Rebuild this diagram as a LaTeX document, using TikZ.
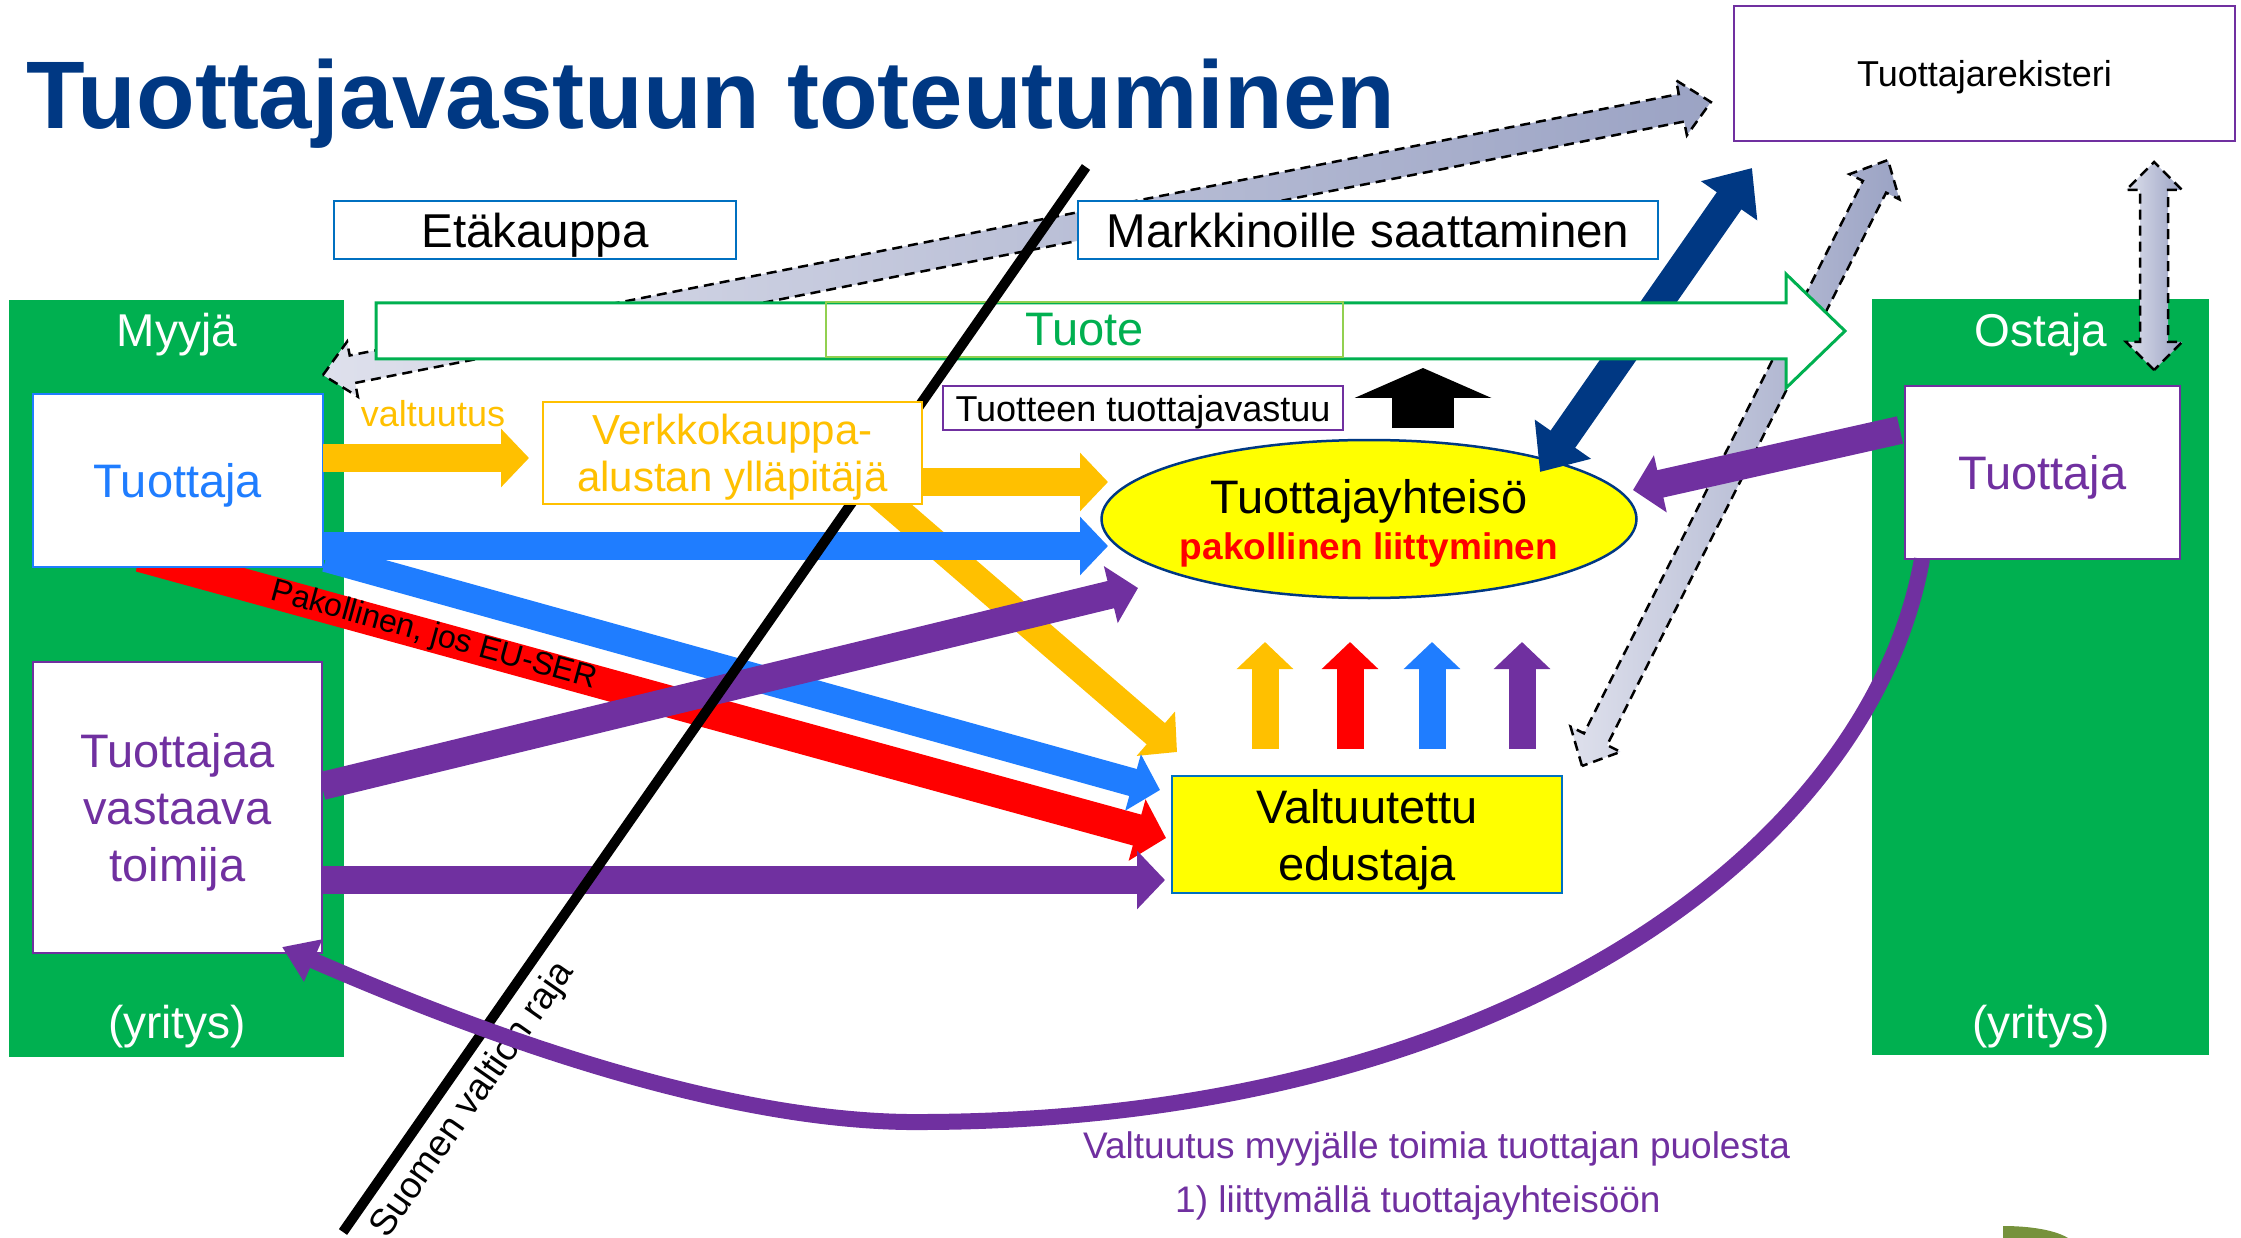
\documentclass[tikz,border=0pt]{standalone}
\usepackage{fontspec}
\setmainfont{Liberation Sans}
\usetikzlibrary{arrows.meta,shapes.geometric}

\definecolor{myGreen}{RGB}{0,176,80}
\definecolor{lightGreen}{RGB}{146,208,80}
\definecolor{myBlue}{RGB}{31,125,255}
\definecolor{boxBlue}{RGB}{0,112,192}
\definecolor{myPurple}{RGB}{112,48,160}
\definecolor{myOrange}{RGB}{255,192,0}
\definecolor{myRed}{RGB}{255,0,0}
\definecolor{navy}{RGB}{0,56,131}
\definecolor{myYellow}{RGB}{255,255,0}
\definecolor{greyLight}{RGB}{222,224,236}
\definecolor{greyDark}{RGB}{155,163,196}
\definecolor{leaf}{RGB}{118,146,60}

\newcommand{\fsz}[2]{\fontsize{#1}{#2}\selectfont}

\newdimen\gaxa \newdimen\gaya \newdimen\gaxb \newdimen\gayb
% grey double arrow with dashed rim: from, to, half shaft, half head, head length, colour at from, colour at to
\newcommand{\gradarrow}[7]{%
  \pgfextractx{\gaxa}{\pgfpointanchor{#1}{center}}%
  \pgfextracty{\gaya}{\pgfpointanchor{#1}{center}}%
  \pgfextractx{\gaxb}{\pgfpointanchor{#2}{center}}%
  \pgfextracty{\gayb}{\pgfpointanchor{#2}{center}}%
  \pgfmathsetmacro\gaAng{atan2(\gayb-\gaya,\gaxb-\gaxa)}%
  \pgfmathsetmacro\gaLen{veclen(\gaxb-\gaxa,\gayb-\gaya)}%
  \begin{scope}[shift={(\gaxa,\gaya)}, rotate=\gaAng]
    \shadedraw[left color=#6, right color=#7, dashrim]
      (0,0) -- (#5,-#4) -- (#5,-#3) -- (\gaLen-#5,-#3) -- (\gaLen-#5,-#4) -- (\gaLen,0)
      -- (\gaLen-#5,#4) -- (\gaLen-#5,#3) -- (#5,#3) -- (#5,#4) -- cycle;
  \end{scope}}

\begin{document}
\begin{tikzpicture}[x=1pt,y=1pt,yscale=-1,
    greenbox/.style={fill=myGreen, inner sep=0pt},
    framebox/.style={draw=#1, fill=white, line width=2.5pt, inner sep=0pt, align=center, text depth=0pt},
    flatarrow/.style={line width=28pt, -{Triangle[length=28pt,width=57pt]}},
    uparrow/.style={line width=27pt, -{Triangle[length=27pt,width=55pt]}},
    dashrim/.style={draw=black, line width=2.5pt, dash pattern=on 10pt off 6pt}]
  \useasboundingbox (0,0) rectangle (2241,1238);

  % seller and buyer
  \node[greenbox, minimum width=335pt, minimum height=757pt] (myyja) at (176.5,678.5) {};
  \node[greenbox, minimum width=337pt, minimum height=756pt] (ostaja) at (2040.5,677) {};
  \node[anchor=base, text=white, font=\fsz{46}{50}] (myyjaT) at (177,347) {Myyjä};
  \node[anchor=base, text=white, font=\fsz{46}{50}] (myyjaY) at (177,1038) {(yritys)};
  \node[anchor=base, text=white, font=\fsz{46}{50}] (ostajaT) at (2041,347) {Ostaja};
  \node[anchor=base, text=white, font=\fsz{46}{50}] (ostajaY) at (2041,1038) {(yritys)};

  % producer organisation
  \node[ellipse, draw=navy, line width=2.5pt, fill=myYellow, inner sep=0pt, text depth=0pt,
        minimum width=532pt, minimum height=158pt, align=center, font=\fsz{47}{46}] (yhteiso) at (1369,519)
        {Tuottajayhteisö\\{\color{myRed}\bfseries\fsz{37}{46}pakollinen liittyminen}};

  % register links
  \coordinate (g1a) at (323,375);
  \coordinate (g1b) at (1711,102);
  \coordinate (g2a) at (1582,766);
  \coordinate (g2b) at (1888,160);
  \coordinate (g3a) at (2154,370);
  \coordinate (g3b) at (2154,162);
  \gradarrow{g1a}{g1b}{14}{28}{30}{greyLight}{greyDark}
  \gradarrow{g2a}{g2b}{13}{28}{30}{greyLight}{greyDark}
  \gradarrow{g3a}{g3b}{14}{28}{28}{greyLight}{greyDark}

  \coordinate (nvA) at (1540,472);
  \coordinate (nvB) at (1752,168);
  \draw[navy, line width=30pt, {Triangle[length=40pt,width=66pt]}-{Triangle[length=40pt,width=66pt]}] (nvA) -- (nvB);

  % product
  \draw[myGreen, line width=3pt, fill=white] (376,303) -- (1786,303) -- (1786,274) -- (1845,331)
      -- (1786,388) -- (1786,359) -- (376,359) -- cycle;
  \node[draw=lightGreen, line width=2pt, inner sep=0pt, minimum width=517pt, minimum height=55pt,
        text=myGreen, font=\fsz{47}{50}] (tuote) at (1084.5,329.5) {Tuote};

  \node[framebox=boxBlue, minimum width=402pt, minimum height=58pt, font=\fsz{47.5}{50}] (etakauppa) at (535,230) {Etäkauppa};
  \node[framebox=boxBlue, minimum width=580pt, minimum height=58pt, font=\fsz{47.5}{50}] (markkina) at (1368,230) {Markkinoille saattaminen};
  \node[framebox=myPurple, minimum width=501pt, minimum height=135pt, font=\fsz{36}{40}] (rekisteri) at (1984.5,73.5) {Tuottajarekisteri};

  % arrows from the seller side
  \coordinate (orD1) at (870,487);
  \coordinate (orD2) at (1177,752);
  \draw[flatarrow, myOrange] (orD1) -- (orD2);

  \coordinate (redA) at (140,556);
  \coordinate (redB) at (1166,838);
  \draw[myRed, line width=32pt, -{Triangle[length=30pt,width=62pt]}] (redA) -- (redB);
  \node[rotate=-15.4, font=\fsz{32}{36}] (euser) at (434,636) {Pakollinen, jos EU-SER};

  \coordinate (bluA) at (323,546);
  \coordinate (bluB) at (1108,546);
  \coordinate (bluC) at (326,558);
  \coordinate (bluD) at (1160,790);
  \draw[flatarrow, myBlue] (bluC) -- (bluD);
  \draw[flatarrow, myBlue] (bluA) -- (bluB);

  \coordinate (purA) at (322,786);
  \coordinate (purB) at (1138,588);
  \coordinate (purC) at (322,880);
  \coordinate (purD) at (1165,880);
  \draw[flatarrow, myPurple] (purA) -- (purB);
  \draw[flatarrow, myPurple] (purC) -- (purD);

  \node[framebox=myBlue, minimum width=290pt, minimum height=173pt, text=myBlue, font=\fsz{47}{50}] (tuotM) at (178,480.5) {Tuottaja};
  \node[framebox=myPurple, minimum width=289pt, minimum height=291pt, text=myPurple, font=\fsz{47}{57}] (vastaava) at (177.5,807.5) {Tuottajaa\\vastaava\\toimija};

  \coordinate (orA) at (323,458);
  \coordinate (orB) at (529,458);
  \draw[flatarrow, myOrange] (orA) -- (orB);
  \node[anchor=base, text=myOrange, font=\fsz{36}{40}] (valtuutus) at (433,427) {valtuutus};

  % state border
  \coordinate (rajaA) at (343,1232);
  \coordinate (rajaB) at (1086,167);
  \draw[line width=10pt] (rajaA) -- (rajaB);

  \node[framebox=myOrange, minimum width=379pt, minimum height=102pt, text=myOrange, font=\fsz{42}{47}] (verkko) at (732.5,453) {Verkkokauppa-\\alustan ylläpitäjä};
  \coordinate (orC) at (922,482);
  \coordinate (orE) at (1108,482);
  \draw[flatarrow, myOrange] (orC) -- (orE);

  \node[framebox=myPurple, minimum width=400pt, minimum height=44pt, font=\fsz{36}{40}] (vastuu) at (1143,408) {Tuotteen tuottajavastuu};
  \coordinate (upA) at (1423,428);
  \coordinate (upB) at (1423,368);
  \draw[line width=62pt, -{Triangle[length=30pt,width=136pt]}] (upA) -- (upB);

  \foreach \xx/\cc in {1265/myOrange,1350/myRed,1432/myBlue,1522/myPurple}
    \draw[uparrow, \cc] (\xx,749) -- (\xx,642);

  \node[draw=boxBlue, fill=myYellow, line width=2.5pt, inner sep=0pt, text depth=0pt, minimum width=390pt, minimum height=117pt,
        align=center, font=\fsz{47}{57}] (valtuutettu) at (1367,834.5) {Valtuutettu\\edustaja};

  % buyer side
  \coordinate (poA) at (1900,430);
  \coordinate (poB) at (1633,490);
  \draw[flatarrow, myPurple] (poA) -- (poB);
  \node[framebox=myPurple, minimum width=275pt, minimum height=173pt, text=myPurple, font=\fsz{47}{50}] (tuotO) at (2042.5,472.5) {Tuottaja};

  \node[rotate=55, font=\fsz{37}{40}] (rajaT) at (473,1100) {Suomen valtion raja};

  \coordinate (curA) at (1922,559);
  \coordinate (curB) at (282,947);
  \draw[myPurple, line width=16pt, -{Triangle[length=34pt,width=44pt]}] (curA)
      .. controls (1870,850) and (1500,1125) .. (907,1122)
      .. controls (700,1119) and (450,1020) .. (curB);

  % title and notes
  \node[anchor=base west, inner sep=0pt, text=navy, font=\bfseries\fsz{96}{100}] (title) at (26,129) {Tuottajavastuun toteutuminen};
  \node[anchor=base west, inner sep=0pt, text=myPurple, font=\fsz{37}{40}] (note1) at (1083,1158) {Valtuutus myyjälle toimia tuottajan puolesta};
  \node[anchor=base west, inner sep=0pt, text=myPurple, font=\fsz{37}{40}] (note2) at (1175,1212) {1) liittymällä tuottajayhteisöön};

  \fill[leaf] (2003,1238) -- (2003,1226) .. controls (2030,1226) and (2055,1230) .. (2068,1238) -- cycle;
\end{tikzpicture}
\end{document}
